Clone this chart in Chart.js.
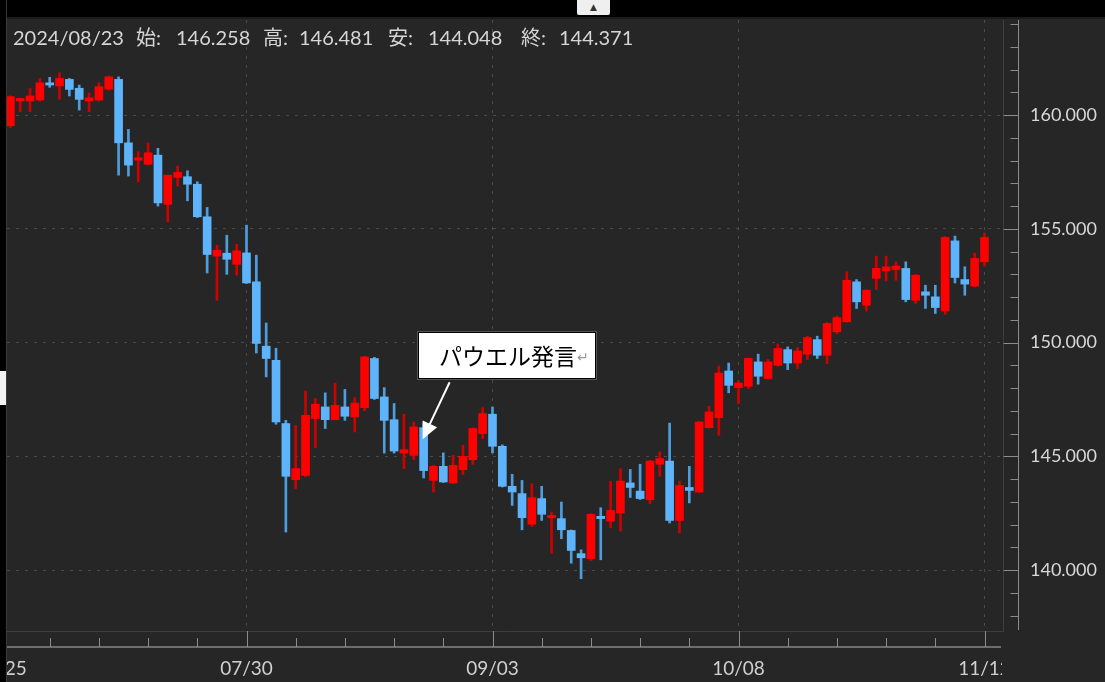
<!DOCTYPE html>
<html lang="ja">
<head>
<meta charset="utf-8">
<title>USD/JPY 日足</title>
<script src="https://cdn.jsdelivr.net/npm/chart.js@4/dist/chart.umd.min.js"></script>
<style>
  html, body { margin: 0; padding: 0; background: #262626; }
  #wrap { position: relative; width: 1105px; height: 682px; overflow: hidden; background: #262626; }
  #c { position: absolute; left: 0; top: 0; }
  #topbar { position: absolute; left: 0; top: 0; width: 1105px; height: 17px; background: #000; border-bottom: 2px solid #1a1a1a; }
  #toggle { position: absolute; left: 577px; top: 0; width: 33px; height: 15px; background: #efefef; border-radius: 0 0 2px 2px;
            font: 9px "DejaVu Sans", sans-serif; color: #333; text-align: center; line-height: 14px; }
  #leftbar { position: absolute; left: 0; top: 0; width: 6px; height: 682px; background: #000; border-right: 1px solid #3a3a3a; }
  #tab { position: absolute; left: 0; top: 371px; width: 6px; height: 34px; background: #f2f2f2; }
  #ohlc span { position: absolute; top: 27px; font: 20px Lato, "Noto Sans CJK JP", sans-serif; line-height: 20px;
               color: #d6d6d6; white-space: pre; }
  #mask { position: absolute; left: 1002px; top: 650px; width: 103px; height: 32px; background: #262626; }
  #note { position: absolute; left: 418px; top: 332px; width: 176px; height: 45px; background: #fff; border: 1px solid #000;
          box-shadow: 0 0 0 1px #555; }
  #note span.t { position: absolute; left: 20px; top: 9px; font: 23px "Noto Sans CJK JP", sans-serif; line-height: 26px; color: #000; }
  #note span.r { position: absolute; left: 158px; top: 16px; font: 14px "DejaVu Sans", sans-serif; line-height: 16px; color: #999; }
</style>
</head>
<body>
<div id="wrap">
  <canvas id="c" width="1105" height="682"></canvas>
  <div id="mask"></div>
  <div id="topbar"></div>
  <div id="toggle">▲</div>
  <div id="leftbar"></div>
  <div id="tab"></div>
  <div id="ohlc">
    <span style="left:13px">2024/08/23</span>
    <span style="left:136px">始:</span><span style="left:176px">146.258</span>
    <span style="left:263px">高:</span><span style="left:299px">146.481</span>
    <span style="left:388px">安:</span><span style="left:428px">144.048</span>
    <span style="left:521px">終:</span><span style="left:559px">144.371</span>
  </div>
  <div id="note"><span class="t">パウエル発言</span><span class="r">↵</span></div>
</div>
<script>
// USD/JPY daily candles, 06/25 - 11/12 (index 0 sits under the left frame)
const dates = [
  '06/25','06/26','06/27','06/28','07/01',
  '07/02','07/03','07/04','07/05','07/08',
  '07/09','07/10','07/11','07/12','07/15',
  '07/16','07/17','07/18','07/19','07/22',
  '07/23','07/24','07/25','07/26','07/29',
  '07/30','07/31','08/01','08/02','08/05',
  '08/06','08/07','08/08','08/09','08/12',
  '08/13','08/14','08/15','08/16','08/19',
  '08/20','08/21','08/22','08/23','08/26',
  '08/27','08/28','08/29','08/30','09/02',
  '09/03','09/04','09/05','09/06','09/09',
  '09/10','09/11','09/12','09/13','09/16',
  '09/17','09/18','09/19','09/20','09/23',
  '09/24','09/25','09/26','09/27','09/30',
  '10/01','10/02','10/03','10/04','10/07',
  '10/08','10/09','10/10','10/11','10/14',
  '10/15','10/16','10/17','10/18','10/21',
  '10/22','10/23','10/24','10/25','10/28',
  '10/29','10/30','10/31','11/01','11/04',
  '11/05','11/06','11/07','11/08','11/11',
  '11/12'
];

const opens = [
  null, 159.53, 160.62, 160.62, 160.66,
  161.42, 161.28, 161.57, 161.18, 160.62,
  160.66, 161.14, 161.57, 158.78, 158.02,
  157.84, 158.24, 156.08, 157.26, 157.29,
  156.96, 155.53, 153.80, 153.93, 153.44,
  153.94, 152.67, 149.84, 149.22, 146.44,
  143.97, 144.16, 146.66, 147.17, 146.61,
  147.17, 146.73, 147.14, 149.30, 147.61,
  146.61, 145.14, 145.04, 146.258, 143.94,
  144.56, 143.83, 144.41, 144.85, 146.00,
  146.85, 145.44, 143.68, 143.36, 142.01,
  143.14, 142.30, 142.26, 141.74, 140.72,
  140.50, 142.36, 142.15, 142.51, 143.83,
  143.47, 143.09, 144.65, 144.79, 142.18,
  143.63, 143.43, 146.26, 146.70, 148.75,
  148.02, 148.08, 149.15, 148.42, 149.00,
  149.69, 149.10, 149.49, 150.13, 149.44,
  150.47, 150.91, 152.67, 151.64, 152.82,
  153.15, 153.21, 153.26, 151.86, 152.23,
  152.01, 151.39, 154.47, 152.77, 152.48,
  153.55
];
const highs = [
  null, 160.85, 160.75, 161.17, 161.61,
  161.66, 161.86, 161.61, 161.32, 160.98,
  161.42, 161.72, 161.68, 159.37, 158.39,
  158.78, 158.54, 157.36, 157.76, 157.55,
  157.07, 155.94, 154.28, 154.72, 154.32,
  155.16, 153.84, 150.86, 149.75, 146.58,
  146.36, 147.87, 147.54, 147.79, 148.22,
  147.94, 147.58, 149.40, 149.35, 148.02,
  147.32, 146.85, 146.51, 146.481, 144.60,
  145.15, 145.04, 145.48, 146.25, 147.14,
  147.17, 145.50, 144.21, 143.94, 143.80,
  143.68, 142.55, 142.99, 141.76, 140.89,
  142.48, 142.74, 143.91, 144.46, 144.42,
  144.65, 144.82, 145.19, 146.46, 143.91,
  144.56, 146.53, 147.20, 148.96, 149.10,
  148.31, 149.32, 149.49, 149.26, 149.93,
  149.81, 149.78, 150.28, 150.28, 150.88,
  151.16, 153.11, 152.77, 152.32, 153.80,
  153.80, 153.55, 153.55, 153.00, 152.52,
  152.52, 154.66, 154.68, 153.33, 153.92,
  154.82
];
const lows = [
  null, 159.45, 160.15, 160.15, 160.62,
  161.22, 160.69, 160.84, 160.22, 160.15,
  160.62, 161.10, 157.36, 157.32, 157.07,
  157.80, 156.00, 155.31, 156.88, 156.23,
  155.50, 153.06, 151.86, 153.00, 152.96,
  152.60, 149.54, 148.49, 146.41, 141.67,
  143.58, 144.10, 145.38, 146.22, 146.60,
  146.58, 146.07, 147.00, 147.50, 145.14,
  145.14, 144.46, 144.85, 144.048, 143.43,
  143.85, 143.80, 144.20, 144.65, 145.78,
  145.15, 143.65, 142.84, 141.77, 141.92,
  142.18, 140.74, 141.38, 140.30, 139.62,
  140.42, 140.45, 141.86, 141.71, 143.19,
  143.10, 142.92, 144.12, 142.07, 141.63,
  142.95, 143.40, 146.24, 145.92, 147.79,
  147.32, 147.98, 148.17, 148.38, 148.96,
  148.81, 148.86, 149.25, 149.30, 149.08,
  150.38, 150.90, 151.50, 151.39, 152.33,
  152.71, 152.74, 151.79, 151.72, 151.50,
  151.28, 151.24, 152.62, 152.08, 152.45,
  153.36
];
const closes = [
  null, 160.81, 160.73, 160.84, 161.42,
  161.32, 161.61, 161.13, 160.69, 160.76,
  161.25, 161.68, 158.78, 157.80, 158.12,
  158.34, 156.14, 157.36, 157.48, 156.96,
  155.53, 153.87, 154.06, 153.66, 154.03,
  152.62, 149.96, 149.30, 146.51, 144.12,
  144.46, 146.80, 147.29, 146.61, 147.24,
  146.76, 147.34, 149.37, 147.54, 146.58,
  145.23, 145.29, 146.29, 144.371, 144.56,
  143.87, 144.60, 145.00, 146.22, 146.88,
  145.44, 143.68, 143.43, 142.30, 143.18,
  142.45, 142.40, 141.77, 140.86, 140.54,
  142.45, 142.26, 142.62, 143.91, 143.63,
  143.14, 144.79, 144.90, 142.18, 143.72,
  143.50, 146.51, 146.95, 148.66, 148.12,
  148.22, 149.30, 148.52, 149.15, 149.74,
  149.10, 149.63, 150.22, 149.44, 150.84,
  151.10, 152.74, 151.79, 152.30, 153.26,
  153.33, 153.36, 151.89, 152.96, 152.08,
  151.54, 154.62, 152.86, 152.57, 153.70,
  154.62
];

// axis settings
const priceLabels = [140, 145, 150, 155, 160];   // labelled price levels
const yMin = 137.32, yMax = 164.18;
const xMin = 0.66, xMax = 101.88;
const WEEK = 5, LABEL_EVERY = 25;                // trading days

const RED = '#ff0000', RED_WICK = '#d00000';
const BLUE = '#5db4fb', BLUE_WICK = '#4e9ddf';
const GRID = '#4a4a4a';
const FONT = 'Lato, "Noto Sans CJK JP", sans-serif';

const idx = dates.map((d, i) => i).filter(i => opens[i] != null);
const isUp = i => closes[i] >= opens[i];

const wickData = idx.map(i => ({x: i, y: [lows[i], highs[i]]}));
const bodyData = idx.map(i => ({x: i, y: [opens[i], closes[i]]}));
const wickColors = idx.map(i => isUp(i) ? RED_WICK : BLUE_WICK);
const bodyColors = idx.map(i => isUp(i) ? RED : BLUE);

const priceTicks = [];
for (let v = Math.ceil(yMin); v <= Math.floor(yMax); v++) priceTicks.push(v);
const dayTicks = dates.map((d, i) => i).filter(i => i % WEEK === 0);

function line(ctx, x1, y1, x2, y2) {
  ctx.beginPath(); ctx.moveTo(x1, y1); ctx.lineTo(x2, y2); ctx.stroke();
}

// keep the plot box where the broker's chart has it
function fixBox(size) {
  return s => {
    if (s.isHorizontal()) s.height = size; else s.width = size;
    s.paddingLeft = s.paddingRight = s.paddingTop = s.paddingBottom = 0;
  };
}

// separate axis rulers like the broker's chart
const axisDecor = {
  id: 'axisDecor',
  afterDraw(chart) {
    const {ctx, chartArea: a, scales: {x, y}} = chart;
    ctx.save();
    ctx.strokeStyle = '#8c8c8c';
    ctx.lineWidth = 1;
    const ax = a.right + 15.5;
    line(ctx, ax, a.top, ax, a.bottom - 1);
    y.ticks.forEach(t => {
      const py = Math.round(y.getPixelForValue(t.value)) + 0.5;
      const len = priceLabels.includes(t.value) ? 15 : 8;
      line(ctx, ax - len, py, ax, py);
    });
    const by = a.bottom + 16;
    ctx.strokeStyle = '#6e6e6e';
    ctx.lineWidth = 2;
    line(ctx, a.left, by, a.right - 2, by);
    ctx.strokeStyle = '#8c8c8c';
    ctx.lineWidth = 1;
    x.ticks.forEach(t => {
      const px = Math.round(x.getPixelForValue(t.value)) + 0.5;
      if (px < a.left) return;
      const len = t.value % LABEL_EVERY === 0 ? 16 : 9;
      line(ctx, px, by - len, px, by);
    });
    ctx.restore();
  },
  afterDatasetsDraw(chart) {
    // arrow pointing at the 08/23 candle
    const {ctx, scales: {x, y}} = chart;
    const tx = x.getPixelForValue(dates.indexOf('08/23')) - 1;
    const ty = y.getPixelForValue(145.75);
    const sx = tx + 27, sy = ty - 57;
    const len = Math.hypot(sx - tx, sy - ty);
    const ux = (sx - tx) / len, uy = (sy - ty) / len;
    ctx.save();
    ctx.strokeStyle = '#fff';
    ctx.fillStyle = '#fff';
    ctx.lineWidth = 2;
    line(ctx, sx, sy, tx + ux * 12, ty + uy * 12);
    ctx.beginPath();
    ctx.moveTo(tx, ty);
    ctx.lineTo(tx + ux * 17 - uy * 8, ty + uy * 17 + ux * 8);
    ctx.lineTo(tx + ux * 17 + uy * 8, ty + uy * 17 - ux * 8);
    ctx.closePath();
    ctx.fill();
    ctx.restore();
  }
};

new Chart(document.getElementById('c'), {
  type: 'bar',
  data: {
    datasets: [
      { label: 'wick', data: wickData, backgroundColor: wickColors, barThickness: 2,
        grouped: false, order: 2, borderWidth: 0 },
      { label: 'body', data: bodyData, backgroundColor: bodyColors, barThickness: 8,
        grouped: false, order: 1, borderWidth: 0, minBarLength: 2 }
    ]
  },
  options: {
    responsive: false,
    animation: false,
    layout: { padding: { left: 7, top: 20, right: 0, bottom: 0 } },
    plugins: { legend: { display: false }, tooltip: { enabled: false } },
    scales: {
      x: {
        type: 'linear', position: 'bottom', min: xMin, max: xMax, offset: false,
        afterBuildTicks: s => { s.ticks = dayTicks.map(v => ({value: v})); },
        afterFit: fixBox(51),
        ticks: {
          autoSkip: false, maxRotation: 0, padding: 26, color: '#cfcfcf',
          font: { family: FONT, size: 19 },
          callback: v => v % LABEL_EVERY === 0 ? dates[v] : ''
        },
        grid: {
          offset: false, drawTicks: false, lineWidth: 1,
          color: c => (c.tick && c.tick.value % LABEL_EVERY === 0) ? GRID : 'rgba(0,0,0,0)'
        },
        border: { display: true, color: '#3e3e3e', width: 1, dash: [3, 6] }
      },
      y: {
        type: 'linear', position: 'right', min: yMin, max: yMax,
        afterBuildTicks: s => { s.ticks = priceTicks.map(v => ({value: v})); },
        afterFit: fixBox(102),
        ticks: {
          autoSkip: false, padding: 27, color: '#d8d8d8',
          font: { family: FONT, size: 18 },
          callback: v => priceLabels.includes(v) ? v.toFixed(3) : ''
        },
        grid: {
          drawTicks: false, lineWidth: 1,
          color: c => (c.tick && priceLabels.includes(c.tick.value)) ? GRID : 'rgba(0,0,0,0)'
        },
        border: { display: true, color: '#3e3e3e', width: 1, dash: [3, 6] }
      }
    }
  },
  plugins: [axisDecor]
});
</script>
</body>
</html>
